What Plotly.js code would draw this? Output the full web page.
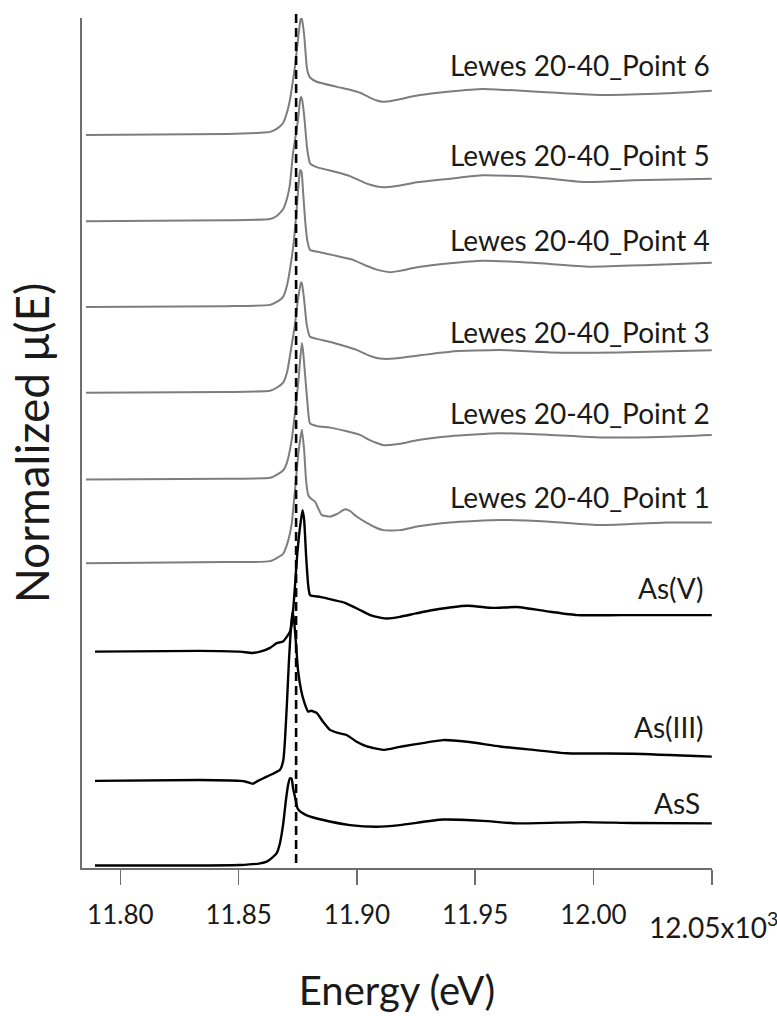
<!DOCTYPE html>
<html>
<head>
<meta charset="utf-8">
<script src="https://cdn.plot.ly/plotly-3.0.1.min.js"></script>
<style>
  html, body { margin: 0; padding: 0; background: #ffffff; }
  #chart { width: 777px; height: 1016px; }
</style>
</head>
<body>
<div id="chart"></div>
<script>
// ---------------- DATA (energies in eV, normalized mu(E), vertical offsets) ----------------
const seriesNames = [
  "Lewes 20-40_Point 6", "Lewes 20-40_Point 5", "Lewes 20-40_Point 4",
  "Lewes 20-40_Point 3", "Lewes 20-40_Point 2", "Lewes 20-40_Point 1",
  "As(V)", "As(III)", "AsS"
];

const offsets = [17.25, 15.22, 13.20, 11.18, 9.14, 7.17, 5.09, 2.05, 0.06];

const energyP6 = [11785.5, 11845.1, 11859.1, 11863.3, 11866.1, 11868.8, 11870.5, 11871.7, 11873.0, 11873.8, 11875.1, 11876.0, 11876.4, 11876.8, 11877.7, 11878.8, 11879.4, 11880.2, 11883.0, 11891.5, 11897.1, 11901.3, 11905.0, 11908.4, 11911.1, 11914.0, 11918.2, 11926.0, 11939.4, 11953.3, 11974.5, 12002.8, 12031.1, 12050.0];
const muP6     = [0, 0.02, 0.05, 0.07, 0.14, 0.28, 0.54, 0.82, 1.29, 1.60, 2.24, 2.66, 2.75, 2.71, 2.35, 1.60, 1.44, 1.35, 1.25, 1.13, 1.06, 0.99, 0.89, 0.81, 0.78, 0.79, 0.84, 0.93, 1.02, 1.08, 1.02, 0.94, 0.98, 1.04];

const energyP5 = [11785.5, 11845.1, 11863.3, 11866.1, 11868.8, 11870.5, 11871.7, 11873.0, 11875.1, 11876.0, 11876.4, 11876.8, 11877.7, 11878.8, 11879.4, 11880.2, 11883.0, 11891.5, 11897.1, 11902.6, 11906.0, 11909.0, 11912.0, 11918.2, 11926.0, 11939.4, 11953.3, 11974.5, 11995.6, 12016.7, 12050.0];
const muP5     = [0, 0.02, 0.05, 0.12, 0.28, 0.54, 0.87, 1.60, 2.38, 2.85, 2.92, 2.87, 2.49, 1.79, 1.55, 1.36, 1.27, 1.15, 1.06, 0.92, 0.85, 0.81, 0.80, 0.84, 0.92, 1.00, 1.08, 1.04, 0.92, 0.96, 1.00];

const energyP4 = [11785.5, 11845.1, 11863.3, 11866.1, 11868.8, 11870.5, 11872.5, 11873.4, 11874.7, 11875.5, 11876.0, 11876.6, 11877.2, 11878.1, 11879.0, 11880.2, 11884.4, 11889.9, 11898.4, 11904.0, 11908.4, 11914.0, 11918.2, 11926.0, 11939.4, 11953.3, 11974.5, 11998.6, 12023.9, 12050.0];
const muP4     = [0, 0.02, 0.05, 0.12, 0.24, 0.52, 1.18, 1.58, 2.40, 2.99, 3.22, 3.18, 2.75, 2.05, 1.58, 1.34, 1.29, 1.22, 1.11, 0.97, 0.88, 0.82, 0.85, 0.94, 1.03, 1.09, 1.04, 0.95, 0.99, 1.04];

const energyP3 = [11785.5, 11845.1, 11863.3, 11866.1, 11868.8, 11870.5, 11872.5, 11873.8, 11875.1, 11876.4, 11876.8, 11877.7, 11878.8, 11880.2, 11883.0, 11889.9, 11899.9, 11904.2, 11908.4, 11911.1, 11914.0, 11918.2, 11926.0, 11939.4, 11960.5, 11981.7, 12010.0, 12050.0];
const muP3     = [0, 0.02, 0.05, 0.12, 0.24, 0.49, 1.15, 1.60, 2.20, 2.60, 2.56, 2.19, 1.60, 1.32, 1.27, 1.18, 1.01, 0.90, 0.82, 0.80, 0.80, 0.82, 0.88, 0.97, 1.01, 0.95, 0.95, 1.00];

const energyP2 = [11785.5, 11845.1, 11863.3, 11866.1, 11868.9, 11870.5, 11872.5, 11873.8, 11875.3, 11876.7, 11877.2, 11878.1, 11879.0, 11880.2, 11883.0, 11889.9, 11901.3, 11905.0, 11908.4, 11911.1, 11914.0, 11918.2, 11926.0, 11939.4, 11960.5, 11981.7, 12002.8, 12031.1, 12050.0];
const muP2     = [0, 0.02, 0.04, 0.11, 0.22, 0.41, 0.95, 1.56, 2.34, 3.21, 3.05, 2.46, 1.87, 1.32, 1.26, 1.21, 1.05, 0.94, 0.86, 0.81, 0.81, 0.84, 0.93, 1.02, 1.09, 1.05, 0.99, 1.01, 1.05];

const energyP1 = [11785.5, 11845.1, 11863.3, 11868.8, 11870.5, 11871.7, 11872.5, 11873.8, 11875.3, 11876.7, 11877.7, 11878.5, 11879.4, 11880.2, 11882.3, 11883.6, 11885.1, 11888.6, 11891.6, 11895.0, 11897.1, 11899.9, 11904.2, 11908.4, 11911.1, 11914.0, 11918.2, 11926.0, 11939.4, 11960.5, 11981.7, 12002.8, 12031.1, 12050.0];
const muP1     = [0, 0.03, 0.05, 0.22, 0.45, 0.70, 0.95, 1.70, 2.60, 3.14, 2.66, 1.96, 1.61, 1.54, 1.45, 1.30, 1.14, 1.10, 1.16, 1.27, 1.23, 1.10, 0.95, 0.83, 0.78, 0.77, 0.78, 0.87, 0.96, 1.02, 0.98, 0.90, 0.96, 0.96];

const energyAsV = [11789.3, 11833.7, 11850.6, 11855.7, 11859.1, 11863.3, 11866.1, 11868.8, 11871.7, 11872.5, 11873.4, 11874.6, 11875.8, 11877.0, 11877.7, 11878.5, 11879.4, 11880.2, 11884.4, 11889.9, 11895.0, 11901.3, 11905.6, 11909.8, 11913.0, 11918.2, 11925.0, 11932.2, 11946.6, 11957.5, 11967.7, 11981.7, 11993.1, 12011.3, 12050.0];
const muAsV     = [0, 0.02, 0, -0.03, 0, 0.09, 0.20, 0.24, 0.47, 0.67, 1.22, 2.16, 2.86, 3.33, 3.10, 2.28, 1.57, 1.33, 1.29, 1.22, 1.15, 0.98, 0.86, 0.80, 0.78, 0.82, 0.90, 0.98, 1.08, 1.03, 1.05, 0.94, 0.86, 0.86, 0.86];

const energyAsIII = [11789.3, 11833.7, 11850.6, 11853.1, 11856.0, 11858.2, 11861.9, 11867.5, 11868.9, 11869.6, 11870.5, 11871.3, 11872.2, 11872.8, 11873.4, 11874.3, 11875.1, 11876.4, 11877.7, 11879.4, 11880.6, 11883.0, 11885.7, 11888.6, 11892.0, 11895.7, 11899.9, 11904.2, 11911.1, 11918.2, 11936.4, 11946.6, 11960.5, 11974.5, 11988.8, 12016.7, 12050.0];
const muAsIII     = [0, 0.02, 0, -0.02, -0.07, 0, 0.10, 0.26, 0.49, 0.96, 1.91, 2.85, 3.67, 3.98, 3.79, 3.20, 2.61, 2.14, 1.86, 1.63, 1.65, 1.60, 1.39, 1.20, 1.13, 1.08, 0.92, 0.81, 0.73, 0.80, 0.96, 0.92, 0.81, 0.73, 0.65, 0.64, 0.57];

const energyAsS = [11789.3, 11833.7, 11850.6, 11859.1, 11861.9, 11864.1, 11866.1, 11867.5, 11868.9, 11870.0, 11870.9, 11871.7, 11872.4, 11873.0, 11873.8, 11874.7, 11875.3, 11876.8, 11878.8, 11885.8, 11897.1, 11908.4, 11918.2, 11936.4, 11953.3, 11967.7, 11995.6, 12016.7, 12050.0];
const muAsS     = [0, 0, 0.01, 0.05, 0.09, 0.18, 0.29, 0.53, 1.00, 1.54, 1.89, 2.05, 2.04, 1.82, 1.62, 1.38, 1.31, 1.24, 1.18, 1.07, 0.95, 0.91, 0.95, 1.08, 1.05, 0.99, 1.02, 1.00, 0.99];

const referenceEdgeEnergy = 11874.3;   // dashed reference line (eV)

const tickValues = [11800, 11850, 11900, 11950, 12000, 12050];
const tickLabels = ["11.80", "11.85", "11.90", "11.95", "12.00", ""];

// ---------------- BUILD ----------------
const energies = [energyP6, energyP5, energyP4, energyP3, energyP2, energyP1, energyAsV, energyAsIII, energyAsS];
const mus      = [muP6, muP5, muP4, muP3, muP2, muP1, muAsV, muAsIII, muAsS];

const GRAY = "#7d7d7d";
const BLACK = "#000000";
const FONT = "Lato, 'Open Sans', 'DejaVu Sans', sans-serif";

const traces = seriesNames.map((name, i) => ({
  type: "scatter",
  mode: "lines",
  name: name,
  x: energies[i],
  y: mus[i].map(v => v + offsets[i]),
  line: {
    color: i < 6 ? GRAY : BLACK,
    width: i < 6 ? 2 : 2.4,
    shape: "spline",
    smoothing: 0.5
  },
  hoverinfo: "skip"
}));

// label placement (style): y position in data units
const labelY = [18.89, 16.78, 14.78, 12.62, 10.71, 8.74, 6.59, 3.32, 1.53];
const labelX = [12050, 12050, 12050, 12050, 12050, 12050, 12047.2, 12047.6, 12045.8];

const annotations = seriesNames.map((name, i) => ({
  x: labelX[i], y: labelY[i], xref: "x", yref: "y",
  text: name, showarrow: false, xanchor: "right", yanchor: "middle",
  font: { family: FONT, size: 28, color: "#1a1a1a" }
}));

annotations.push({
  x: 12050, y: -0.068, xref: "x", yref: "paper",
  text: "12.05x10<sup>3</sup>", showarrow: false,
  xanchor: "center", yanchor: "middle", xshift: 2,
  font: { family: FONT, size: 28, color: "#1a1a1a" }
});

const AXIS = "#6e6e6e";

const layout = {
  width: 777,
  height: 1016,
  margin: { l: 82, r: 65, t: 18, b: 148 },
  paper_bgcolor: "#ffffff",
  plot_bgcolor: "#ffffff",
  showlegend: false,
  font: { family: FONT, color: "#1a1a1a" },
  xaxis: {
    range: [11783.8, 12050.1],
    tickmode: "array",
    tickvals: tickValues,
    ticktext: tickLabels,
    ticks: "outside",
    ticklen: 15,
    tickwidth: 1.5,
    tickcolor: AXIS,
    ticklabelstandoff: 8,
    showline: true,
    linecolor: AXIS,
    linewidth: 2,
    showgrid: false,
    zeroline: false,
    tickfont: { family: FONT, size: 26, color: "#1a1a1a" },
    title: { text: "Energy (eV)", font: { family: FONT, size: 40, color: "#1a1a1a" }, standoff: 48 }
  },
  yaxis: {
    range: [0, 20],
    showline: true,
    linecolor: AXIS,
    linewidth: 2,
    ticks: "",
    showticklabels: false,
    showgrid: false,
    zeroline: false,
    title: { text: "Normalized μ(E)", font: { family: FONT, size: 46, color: "#1a1a1a" }, standoff: 16 }
  },
  shapes: [{
    type: "line", xref: "x", yref: "paper",
    x0: referenceEdgeEnergy, x1: referenceEdgeEnergy, y0: 0.006, y1: 1.006,
    line: { color: "#000000", width: 2.6, dash: "9px,5px" }
  }],
  annotations: annotations
};

Plotly.newPlot("chart", traces, layout, { staticPlot: true, displayModeBar: false });
</script>
</body>
</html>
